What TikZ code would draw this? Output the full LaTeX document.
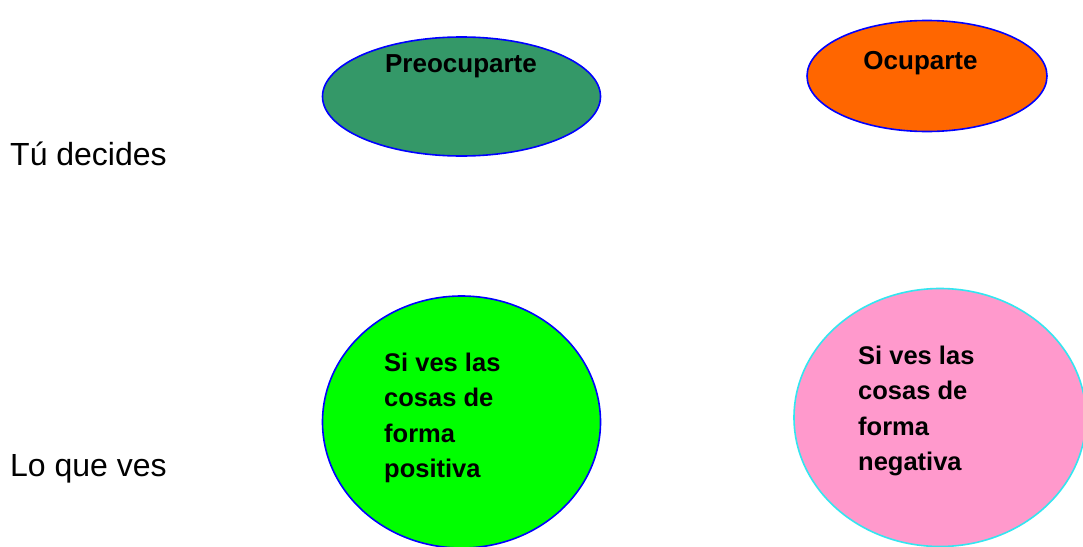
\documentclass[tikz,border=0pt]{standalone}
\usepackage{fontspec}
\setmainfont{Liberation Sans}
\usetikzlibrary{shapes.geometric}
\definecolor{darkgreen}{HTML}{349868}
\definecolor{orangeF}{HTML}{FF6600}
\definecolor{brightgreen}{HTML}{00FF00}
\definecolor{pinkF}{HTML}{FF99CC}
\definecolor{blueB}{HTML}{0000FF}
\definecolor{cyanB}{HTML}{33E6F0}
\tikzset{
  oval/.style={ellipse, draw=blueB, line width=1.6pt, inner sep=0pt},
  plainlabel/.style={anchor=base west, inner sep=0pt, font=\fontsize{32}{38}\selectfont},
  boldlabel/.style={inner sep=0pt, font=\bfseries\fontsize{26}{30}\selectfont},
  circtext/.style={anchor=north west, inner sep=0pt, align=left, font=\bfseries\fontsize{25.5}{35.5}\selectfont},
}
\begin{document}
\begin{tikzpicture}[x=1pt,y=-1pt]
\useasboundingbox (0,0) rectangle (1083,546);
\fill[white] (0,0) rectangle (1083,546);
% top ellipses
\node[oval, fill=darkgreen, minimum width=278pt, minimum height=119pt] (preo) at (461.5,96.5) {};
\node[boldlabel, anchor=base] (preotext) at (461,72) {Preocuparte};
\node[oval, fill=orangeF, minimum width=240pt, minimum height=111pt] (ocup) at (927,76) {};
\node[boldlabel, anchor=base] (ocuptext) at (920.5,69) {Ocuparte};
% left labels
\node[plainlabel] (decides) at (10,165) {Tú decides};
\node[plainlabel] (loque) at (10,476) {Lo que ves};
% bottom circles
\node[oval, fill=brightgreen, minimum width=278pt, minimum height=252pt] (pos) at (461.5,422) {};
\node[circtext] (postext) at (384,352.5) {Si ves las\\cosas de\\forma\\positiva};
\node[oval, draw=cyanB, fill=pinkF, minimum width=292pt, minimum height=258pt] (neg) at (940,417.5) {};
\node[circtext] (negtext) at (858,345.5) {Si ves las\\cosas de\\forma\\negativa};
\end{tikzpicture}
\end{document}
